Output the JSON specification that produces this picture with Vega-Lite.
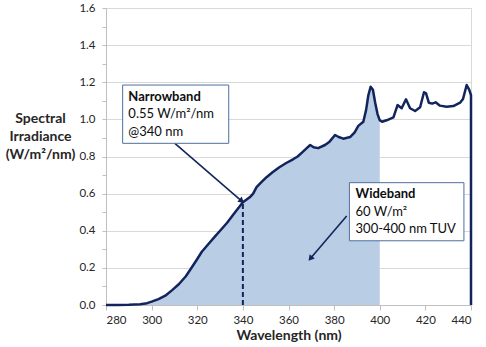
{
  "$schema": "https://vega.github.io/schema/vega-lite/v6.json",
  "width": 365,
  "height": 297,
  "autosize": {"type": "none"},
  "padding": {"left": 106, "top": 8, "right": 15, "bottom": 42},
  "background": "white",
  "config": {
    "font": "Lato",
    "view": {"stroke": "#d9d9d9", "strokeWidth": 1},
    "axis": {"labelFont": "Lato", "titleFont": "Lato"}
  },
  "resolve": {"axis": {"y": "independent"}},
  "datasets": {
    "spectrum": [
      {"i": 1, "lambda": 280, "E": 0},
      {"i": 2, "lambda": 285, "E": 0},
      {"i": 3, "lambda": 290, "E": 0.001},
      {"i": 4, "lambda": 295, "E": 0.004},
      {"i": 5, "lambda": 298, "E": 0.01},
      {"i": 6, "lambda": 300, "E": 0.018},
      {"i": 7, "lambda": 303, "E": 0.032},
      {"i": 8, "lambda": 306, "E": 0.05},
      {"i": 9, "lambda": 309, "E": 0.08},
      {"i": 10, "lambda": 312, "E": 0.113},
      {"i": 11, "lambda": 315, "E": 0.155},
      {"i": 12, "lambda": 318, "E": 0.21},
      {"i": 13, "lambda": 320, "E": 0.248},
      {"i": 14, "lambda": 322, "E": 0.287},
      {"i": 15, "lambda": 325, "E": 0.33},
      {"i": 16, "lambda": 328, "E": 0.372},
      {"i": 17, "lambda": 330, "E": 0.4},
      {"i": 18, "lambda": 333, "E": 0.442},
      {"i": 19, "lambda": 336, "E": 0.49},
      {"i": 20, "lambda": 340, "E": 0.553},
      {"i": 21, "lambda": 343, "E": 0.58},
      {"i": 22, "lambda": 344.5, "E": 0.6},
      {"i": 23, "lambda": 346, "E": 0.635},
      {"i": 24, "lambda": 348, "E": 0.66},
      {"i": 25, "lambda": 350.5, "E": 0.69},
      {"i": 26, "lambda": 353, "E": 0.715},
      {"i": 27, "lambda": 356, "E": 0.742},
      {"i": 28, "lambda": 359, "E": 0.765},
      {"i": 29, "lambda": 362, "E": 0.785},
      {"i": 30, "lambda": 364, "E": 0.8},
      {"i": 31, "lambda": 366, "E": 0.822},
      {"i": 32, "lambda": 368, "E": 0.845},
      {"i": 33, "lambda": 369.5, "E": 0.862},
      {"i": 34, "lambda": 371, "E": 0.85},
      {"i": 35, "lambda": 373, "E": 0.845},
      {"i": 36, "lambda": 376, "E": 0.862},
      {"i": 37, "lambda": 378, "E": 0.88},
      {"i": 38, "lambda": 380.4, "E": 0.916},
      {"i": 39, "lambda": 382, "E": 0.905},
      {"i": 40, "lambda": 384, "E": 0.896},
      {"i": 41, "lambda": 387, "E": 0.905},
      {"i": 42, "lambda": 389, "E": 0.93},
      {"i": 43, "lambda": 390.6, "E": 0.965},
      {"i": 44, "lambda": 392.8, "E": 0.987},
      {"i": 45, "lambda": 394, "E": 1.05},
      {"i": 46, "lambda": 395, "E": 1.13},
      {"i": 47, "lambda": 396, "E": 1.176},
      {"i": 48, "lambda": 397, "E": 1.16},
      {"i": 49, "lambda": 398, "E": 1.09},
      {"i": 50, "lambda": 399, "E": 1.03},
      {"i": 51, "lambda": 400, "E": 0.995},
      {"i": 52, "lambda": 401, "E": 0.987},
      {"i": 53, "lambda": 403, "E": 0.995},
      {"i": 54, "lambda": 406, "E": 1.011},
      {"i": 55, "lambda": 407.8, "E": 1.077},
      {"i": 56, "lambda": 409.6, "E": 1.06},
      {"i": 57, "lambda": 411.5, "E": 1.108},
      {"i": 58, "lambda": 413.3, "E": 1.06},
      {"i": 59, "lambda": 415.5, "E": 1.045},
      {"i": 60, "lambda": 417.7, "E": 1.065},
      {"i": 61, "lambda": 419.4, "E": 1.146},
      {"i": 62, "lambda": 420.3, "E": 1.14},
      {"i": 63, "lambda": 421.5, "E": 1.09},
      {"i": 64, "lambda": 423, "E": 1.085},
      {"i": 65, "lambda": 424.5, "E": 1.092},
      {"i": 66, "lambda": 426.4, "E": 1.074},
      {"i": 67, "lambda": 429.3, "E": 1.068},
      {"i": 68, "lambda": 432.3, "E": 1.072},
      {"i": 69, "lambda": 435.2, "E": 1.09},
      {"i": 70, "lambda": 436.5, "E": 1.11},
      {"i": 71, "lambda": 438.1, "E": 1.185},
      {"i": 72, "lambda": 439.2, "E": 1.16},
      {"i": 73, "lambda": 440, "E": 1.13},
      {"i": 74, "lambda": 440, "E": 0}
    ],
    "arrows": [
      {"name": "narrow", "x": 310.2, "y": 0.871, "x2": 339.5, "y2": 0.56},
      {"name": "wide", "x": 385.5, "y": 0.479, "x2": 369.6, "y2": 0.25}
    ],
    "boxes": [
      {"name": "narrow", "x": 287.3, "x2": 333.8, "y": 1.185, "y2": 0.871},
      {"name": "wide", "x": 386.7, "x2": 436.9, "y": 0.659, "y2": 0.346}
    ],
    "labels": [
      {"box": "narrow", "line": 1, "x": 289.8, "y": 1.122, "text": "Narrowband"},
      {"box": "narrow", "line": 2, "x": 289.8, "y": 1.027, "text": "0.55 W/m²/nm"},
      {"box": "narrow", "line": 3, "x": 289.8, "y": 0.934, "text": "@340 nm"},
      {"box": "wide", "line": 1, "x": 389.4, "y": 0.596, "text": "Wideband"},
      {"box": "wide", "line": 2, "x": 389.4, "y": 0.503, "text": "60 W/m²"},
      {"box": "wide", "line": 3, "x": 389.4, "y": 0.408, "text": "300-400 nm TUV"}
    ],
    "marker": [
      {"lambda": 340, "E0": 0, "E1": 0.553}
    ]
  },
  "layer": [
    {
      "data": {"name": "marker"},
      "mark": {"type": "rule", "opacity": 0},
      "encoding": {
        "x": {"field": "lambda", "type": "quantitative"},
        "y": {
          "field": "E0", "type": "quantitative",
          "axis": {
            "orient": "right",
            "title": null,
            "values": [0.2, 0.4, 0.6, 0.8, 1.0, 1.2, 1.4, 1.6],
            "labels": false,
            "ticks": false,
            "domain": false,
            "grid": true,
            "gridColor": "#d9d9d9",
            "gridWidth": 1
          }
        }
      }
    },
    {
      "data": {"name": "spectrum"},
      "transform": [{"filter": "datum.lambda <= 400"}],
      "mark": {"type": "area", "color": "#b9cde5", "opacity": 1},
      "encoding": {
        "x": {
          "field": "lambda", "type": "quantitative",
          "scale": {"domain": [280, 440], "nice": false, "zero": false},
          "axis": {
            "title": "Wavelength (nm)",
            "values": [280, 290, 300, 310, 320, 330, 340, 350, 360, 370, 380, 390, 400, 410, 420, 430, 440],
            "labelExpr": "datum.value % 20 == 0 ? datum.label : ''",
            "labelOverlap": false,
            "grid": false,
            "domainColor": "#bfbfbf",
            "tickColor": "#bfbfbf",
            "tickSize": 5,
            "labelFontSize": 11.5,
            "labelColor": "#262626",
            "labelPadding": 4,
            "titleFontSize": 14,
            "titleFontWeight": "bold",
            "titleColor": "#262626",
            "titlePadding": 3
          }
        },
        "y": {
          "field": "E", "type": "quantitative",
          "scale": {"domain": [0, 1.6], "nice": false},
          "axis": {
            "title": ["Spectral", "Irradiance", "(W/m²/nm)"],
            "values": [0, 0.1, 0.2, 0.3, 0.4, 0.5, 0.6, 0.7, 0.8, 0.9, 1.0, 1.1, 1.2, 1.3, 1.4, 1.5, 1.6],
            "format": ".1f",
            "labelExpr": "round(datum.value * 10) % 2 == 0 ? datum.label : ''",
            "labelOverlap": false,
            "grid": false,
            "domainColor": "#bfbfbf",
            "tickColor": "#bfbfbf",
            "tickSize": 4,
            "labelFontSize": 11.5,
            "labelColor": "#262626",
            "labelPadding": 7,
            "titleFontSize": 14,
            "titleFontWeight": "bold",
            "titleColor": "#262626",
            "titleAngle": 0,
            "titleAlign": "center",
            "titleBaseline": "top",
            "titleX": -66,
            "titleY": 103,
            "titleLineHeight": 18
          }
        }
      }
    },
    {
      "data": {"name": "spectrum"},
      "mark": {"type": "line", "color": "#12245c", "strokeWidth": 2.5, "strokeJoin": "round"},
      "encoding": {
        "x": {"field": "lambda", "type": "quantitative"},
        "y": {"field": "E", "type": "quantitative", "axis": null},
        "order": {"field": "i", "type": "quantitative"}
      }
    },
    {
      "data": {"name": "marker"},
      "mark": {"type": "rule", "color": "#12245c", "strokeWidth": 2, "strokeDash": [5, 3]},
      "encoding": {
        "x": {"field": "lambda", "type": "quantitative"},
        "y": {"field": "E0", "type": "quantitative", "axis": null},
        "y2": {"field": "E1"}
      }
    },
    {
      "data": {"name": "arrows"},
      "mark": {"type": "rule", "color": "#12245c", "strokeWidth": 1.6},
      "encoding": {
        "x": {"field": "x", "type": "quantitative"},
        "y": {"field": "y", "type": "quantitative", "axis": null},
        "x2": {"field": "x2"},
        "y2": {"field": "y2"}
      }
    },
    {
      "data": {"name": "arrows"},
      "transform": [{"filter": "datum.name == 'narrow'"}],
      "mark": {"type": "point", "shape": "triangle-up", "filled": true, "color": "#12245c", "opacity": 1, "size": 45, "angle": 131},
      "encoding": {
        "x": {"field": "x2", "type": "quantitative"},
        "y": {"field": "y2", "type": "quantitative", "axis": null}
      }
    },
    {
      "data": {"name": "arrows"},
      "transform": [{"filter": "datum.name == 'wide'"}],
      "mark": {"type": "point", "shape": "triangle-up", "filled": true, "color": "#12245c", "opacity": 1, "size": 45, "angle": 220},
      "encoding": {
        "x": {"field": "x2", "type": "quantitative"},
        "y": {"field": "y2", "type": "quantitative", "axis": null}
      }
    },
    {
      "data": {"name": "boxes"},
      "mark": {"type": "rect", "fill": "white", "stroke": "#4f6f9f", "strokeWidth": 1},
      "encoding": {
        "x": {"field": "x", "type": "quantitative"},
        "x2": {"field": "x2"},
        "y": {"field": "y", "type": "quantitative", "axis": null},
        "y2": {"field": "y2"}
      }
    },
    {
      "data": {"name": "labels"},
      "transform": [{"filter": "datum.line == 1"}],
      "mark": {"type": "text", "align": "left", "baseline": "middle", "fontSize": 13, "fontWeight": "bold", "color": "#0d0d0d"},
      "encoding": {
        "x": {"field": "x", "type": "quantitative"},
        "y": {"field": "y", "type": "quantitative", "axis": null},
        "text": {"field": "text"}
      }
    },
    {
      "data": {"name": "labels"},
      "transform": [{"filter": "datum.line > 1"}],
      "mark": {"type": "text", "align": "left", "baseline": "middle", "fontSize": 13, "color": "#0d0d0d"},
      "encoding": {
        "x": {"field": "x", "type": "quantitative"},
        "y": {"field": "y", "type": "quantitative", "axis": null},
        "text": {"field": "text"}
      }
    }
  ]
}
